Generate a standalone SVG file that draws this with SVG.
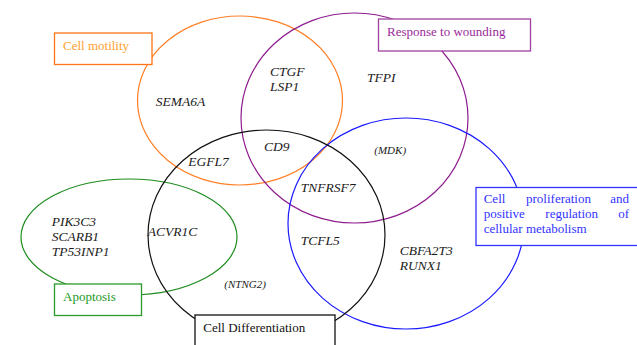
<svg xmlns="http://www.w3.org/2000/svg" width="637" height="345" viewBox="0 0 637 345">
<style>
.set{fill:none;stroke-width:1.2}
.box{fill:#fff;stroke-width:1.3}
.lbl{font-family:"Liberation Serif","Times New Roman",serif;font-size:13px}
.gene{font-family:"Liberation Serif","Times New Roman",serif;font-style:italic;font-size:13.5px;fill:#1a1a1a}
.small{font-size:11px}
</style>
<rect width="637" height="345" fill="#fff"/>
<g id="cell-motility">
<ellipse class="set" cx="240" cy="100.5" rx="102.5" ry="84.5" stroke="#ff7f27"/>
<rect class="box" x="54.5" y="33" width="97.5" height="31.5" stroke="#ff7417"/>
<text class="lbl" x="63" y="50" fill="#ffa030">Cell motility</text>
</g>
<g id="response-to-wounding">
<ellipse class="set" cx="354.5" cy="118" rx="113.5" ry="105" stroke="#8e1c8e"/>
<rect class="box" x="378.5" y="19" width="152" height="32" stroke="#a040a0"/>
<text class="lbl" x="387" y="36" fill="#9a2a9a">Response to wounding</text>
</g>
<g id="cell-proliferation">
<ellipse class="set" cx="406" cy="223.5" rx="118" ry="105.5" stroke="#1a1aff"/>
<rect class="box" x="476" y="187.5" width="175" height="58" stroke="#3333ff"/>
<g class="lbl" fill="#3333ff">
<text x="483.7" y="203">Cell</text>
<text x="526" y="203">proliferation</text>
<text x="629" y="203" text-anchor="end">and</text>
<text x="483.7" y="218.3">positive</text>
<text x="545.3" y="218.3">regulation</text>
<text x="629" y="218.3" text-anchor="end">of</text>
<text x="483.7" y="233.3">cellular metabolism</text>
</g>
</g>
<g id="apoptosis">
<ellipse class="set" cx="129" cy="237" rx="108" ry="58" stroke="#1e8c1e"/>
<rect class="box" x="54.5" y="284" width="87" height="31.5" stroke="#2a9a2a"/>
<text class="lbl" x="63" y="301" fill="#229922">Apoptosis</text>
</g>
<g id="cell-differentiation">
<ellipse class="set" cx="266.5" cy="235" rx="118.5" ry="105" stroke="#111"/>
<rect class="box" x="195" y="315" width="140" height="35" stroke="#111"/>
<text class="lbl" x="203.3" y="332" fill="#111">Cell Differentiation</text>
</g>
<g id="genes" class="gene">
<text x="155.7" y="106">SEMA6A</text>
<text x="270" y="76">CTGF</text>
<text x="270" y="90.7">LSP1</text>
<text x="264" y="150.7">CD9</text>
<text x="188.3" y="165.7">EGFL7</text>
<text x="367" y="81.7">TFPI</text>
<text class="small" x="374.3" y="154">(MDK)</text>
<text x="300.7" y="192.3">TNFRSF7</text>
<text x="300.7" y="245">TCFL5</text>
<text x="399.7" y="255">CBFA2T3</text>
<text x="399.7" y="270">RUNX1</text>
<text x="51.7" y="226">PIK3C3</text>
<text x="51.7" y="241">SCARB1</text>
<text x="51.7" y="256">TP53INP1</text>
<text x="147.7" y="236">ACVR1C</text>
<text class="small" x="224.3" y="287.7">(NTNG2)</text>
</g>
</svg>
